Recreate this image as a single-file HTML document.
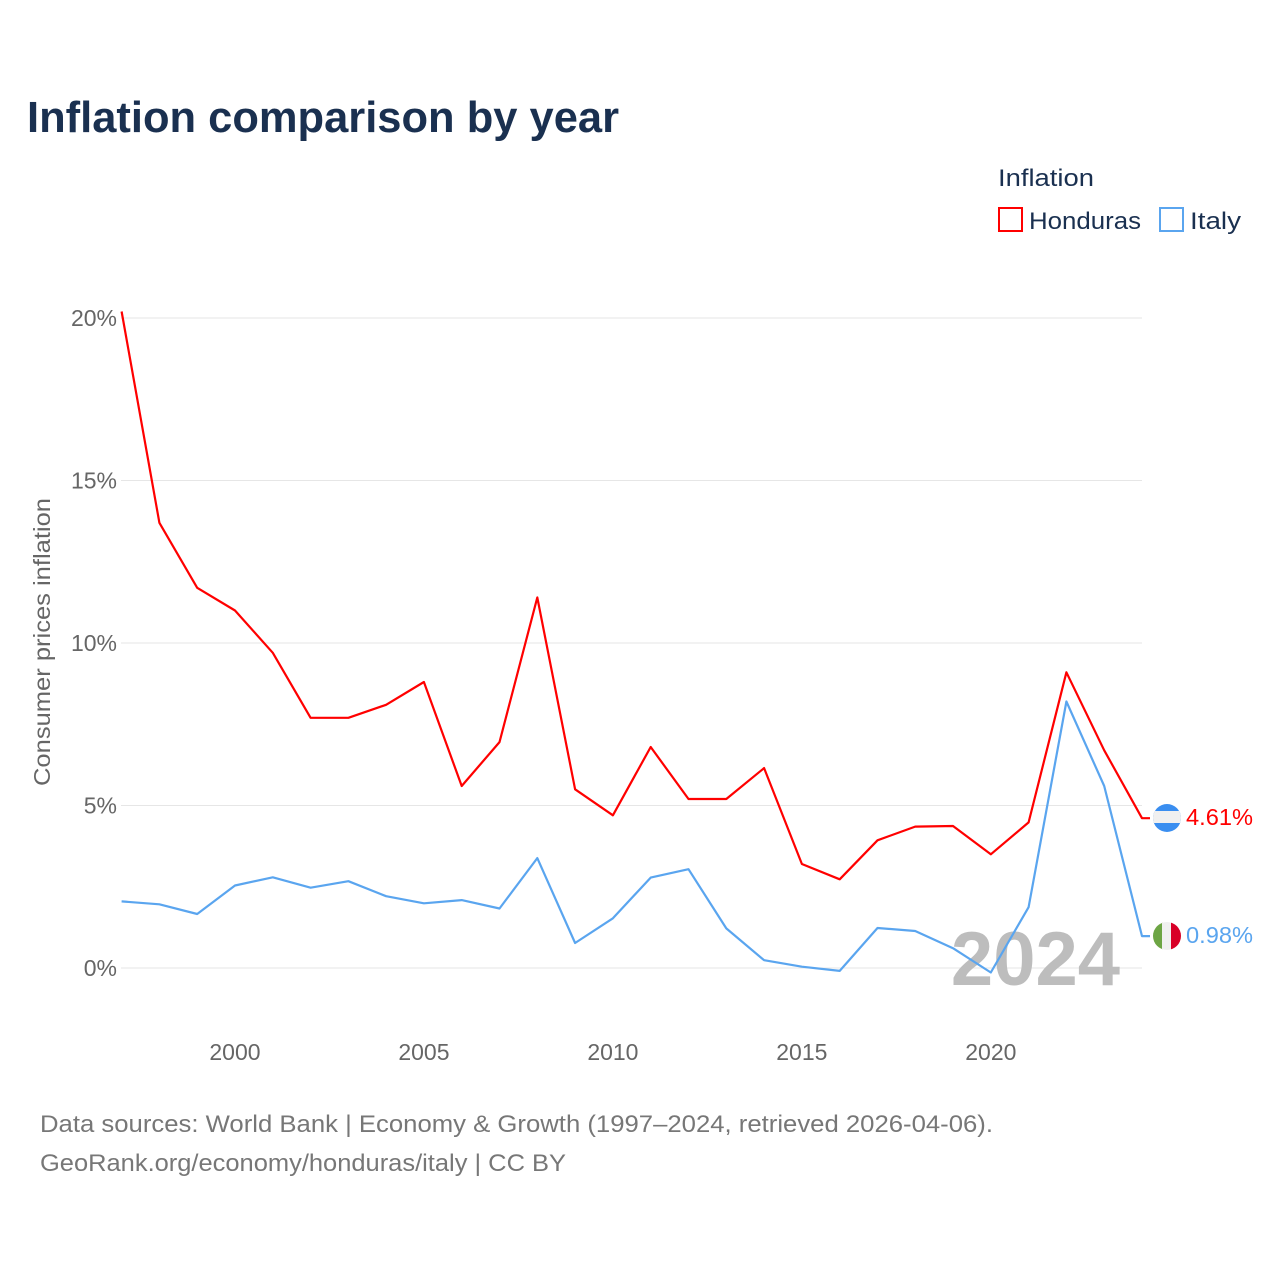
<!DOCTYPE html>
<html><head><meta charset="utf-8"><style>
body{margin:0;background:#fff;font-family:"Liberation Sans",sans-serif;}
svg text{font-family:"Liberation Sans",sans-serif;}
</style></head><body>
<svg id="chart" width="1280" height="1280" xmlns="http://www.w3.org/2000/svg">
<text x="27" y="132" font-size="44" font-weight="bold" fill="#1a3050" textLength="592" lengthAdjust="spacingAndGlyphs">Inflation comparison by year</text>
<g>
<text x="998" y="186" font-size="24" fill="#1a3050" textLength="96" lengthAdjust="spacingAndGlyphs">Inflation</text>
<g><rect x="999" y="208" width="23" height="23" fill="none" stroke="#ff0000" stroke-width="2"/><text x="1029" y="229" font-size="24" fill="#1a3050" textLength="112" lengthAdjust="spacingAndGlyphs">Honduras</text></g>
<g><rect x="1160" y="208" width="23" height="23" fill="none" stroke="#5aa5ef" stroke-width="2"/><text x="1190" y="229" font-size="24" fill="#1a3050" textLength="51" lengthAdjust="spacingAndGlyphs">Italy</text></g>
</g>
<text transform="translate(50,642) rotate(-90)" text-anchor="middle" font-size="23" fill="#666" textLength="288" lengthAdjust="spacingAndGlyphs">Consumer prices inflation</text>
<g id="grid"></g>
<g id="yticks"></g>
<g id="xticks"></g>
<text x="1120" y="985" text-anchor="end" font-size="76" font-weight="bold" fill="#bdbdbd">2024</text>
<g id="series"></g>
<g>
<clipPath id="ch"><circle cx="1167" cy="818" r="14"/></clipPath>
<g clip-path="url(#ch)"><rect x="1153" y="804" width="28" height="28" fill="#3a8ef0"/><rect x="1153" y="811" width="28" height="12" fill="#f0f0f0"/></g>
</g>
<g>
<clipPath id="ci"><circle cx="1167" cy="936" r="14"/></clipPath>
<g clip-path="url(#ci)"><rect x="1153" y="922" width="10" height="28" fill="#6da544"/><rect x="1162" y="922" width="10" height="28" fill="#f0f0f0"/><rect x="1171" y="922" width="10" height="28" fill="#d80027"/></g>
</g>
<text x="1186" y="825" font-size="23" fill="#ff0000" textLength="67" lengthAdjust="spacingAndGlyphs">4.61%</text>
<text x="1186" y="943" font-size="23" fill="#5aa5ef" textLength="67" lengthAdjust="spacingAndGlyphs">0.98%</text>
<text x="40" y="1132" font-size="24" fill="#777" textLength="953" lengthAdjust="spacingAndGlyphs">Data sources: World Bank | Economy &amp; Growth (1997–2024, retrieved 2026-04-06).</text>
<text x="40" y="1171" font-size="24" fill="#777" textLength="526" lengthAdjust="spacingAndGlyphs">GeoRank.org/economy/honduras/italy | CC BY</text>
</svg>
<script>
const years=[1997,1998,1999,2000,2001,2002,2003,2004,2005,2006,2007,2008,2009,2010,2011,2012,2013,2014,2015,2016,2017,2018,2019,2020,2021,2022,2023,2024];
const honduras=[20.2,13.7,11.7,11.0,9.7,7.7,7.7,8.1,8.8,5.6,6.95,11.4,5.5,4.7,6.8,5.2,5.2,6.15,3.2,2.73,3.93,4.35,4.37,3.5,4.48,9.1,6.7,4.61];
const italy=[2.05,1.96,1.66,2.54,2.79,2.47,2.67,2.21,1.99,2.09,1.83,3.38,0.77,1.53,2.78,3.04,1.22,0.24,0.04,-0.09,1.23,1.14,0.61,-0.14,1.87,8.2,5.6,0.98];
const yTicks=[0,5,10,15,20];
const yTickLabels=["0%","5%","10%","15%","20%"];
const xTicks=[2000,2005,2010,2015,2020];
const NS="http://www.w3.org/2000/svg";
function x(v){return 121.6+(v-1997)*(1142-121.6)/27;}
function y(v){return 968-v*32.5;}
function mk(tag,attrs,parent){const e=document.createElementNS(NS,tag);for(const k in attrs)e.setAttribute(k,attrs[k]);parent.appendChild(e);return e;}
const grid=document.getElementById('grid'),yt=document.getElementById('yticks'),xt=document.getElementById('xticks'),ser=document.getElementById('series');
yTicks.forEach((t,i)=>{
 const l=mk('line',{x1:121,x2:1142,y1:y(t),y2:y(t),stroke:'#e6e6e6','stroke-width':1},grid);
 
 
 const tx=mk('text',{x:117,y:y(t)+8,'text-anchor':'end','font-size':23,fill:'#666'},yt);
 tx.textContent=yTickLabels[i];
 
 
});
xTicks.forEach(t=>{
 const tx=mk('text',{x:x(t),y:1060,'text-anchor':'middle','font-size':23,fill:'#666'},xt);
 tx.textContent=t;
 
 
});
function line(vals,color,name){
 let d=vals.map((v,i)=>(i?'L':'M')+x(years[i]).toFixed(1)+','+y(v).toFixed(1)).join(' ');
 d+=' L'+(x(years[years.length-1])+8)+','+y(vals[vals.length-1]).toFixed(1);
 const p=mk('path',{d:d,fill:'none',stroke:color,'stroke-width':2.2,'stroke-linejoin':'round'},ser);
 
 
}
line(italy,'#5aa5ef','line-italy');
line(honduras,'#ff0000','line-honduras');
</script>
</body></html>
